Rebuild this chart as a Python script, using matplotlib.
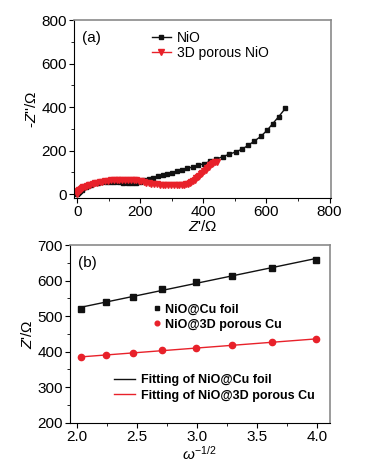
import numpy as np
import matplotlib
matplotlib.use("Agg")
import matplotlib.pyplot as plt
from matplotlib.ticker import MultipleLocator
from matplotlib.lines import Line2D

plt.rcParams["font.family"] = ["Liberation Sans", "DejaVu Sans"]
plt.rcParams["mathtext.fontset"] = "custom"
plt.rcParams["mathtext.rm"] = "Liberation Sans"
plt.rcParams["mathtext.it"] = "Liberation Sans:italic"

# (a) Nyquist plots
nio_x = [0, 2, 5, 9, 14, 20, 27, 35, 44, 54, 65, 77, 90, 104, 118, 132, 146, 160, 173, 186,
         199, 213, 227, 241, 256, 271, 286, 301, 317, 333, 349, 366, 383, 401, 420, 440, 461, 482,
         502, 522, 542, 562, 582, 602, 620, 639, 660]
nio_y = [0, 3, 8, 14, 20, 27, 33, 39, 44, 49, 53, 56, 57, 57, 56, 54, 51, 49, 49, 52,
         58, 64, 70, 76, 82, 88, 93, 99, 106, 112, 118, 125, 132, 140, 150, 160, 172, 183,
         194, 206, 224, 244, 265, 293, 324, 356, 394]

por_x = [0, 1, 2, 4, 6, 9, 12, 16, 20, 25, 30, 36, 42, 49, 56, 64, 72, 80, 89, 98,
         107, 116, 125, 134, 143, 152, 161, 170, 179, 187, 195, 203, 211, 219, 227, 235, 244, 253,
         262, 271, 280, 289, 298, 307, 316, 324, 332, 339, 345, 351, 357, 362, 367, 372, 377, 382,
         387, 392, 397, 402, 407, 412, 417, 422, 427, 432, 437, 442]
por_y = [0, 4, 8, 13, 17, 21, 25, 29, 32, 35, 38, 41, 44, 47, 50, 52, 55, 57, 59, 61,
         63, 64, 65, 66, 66, 66, 66, 66, 65, 64, 62, 59, 56, 53, 50, 48, 46, 45,
         44, 43, 43, 42, 42, 41, 41, 41, 42, 43, 45, 48, 52, 56, 61, 66, 72, 78,
         84, 91, 98, 105, 112, 119, 126, 133, 139, 144, 147, 149]

# (b) Z' vs omega^-1/2
w = [2.03, 2.24, 2.47, 2.71, 2.99, 3.29, 3.63, 3.99]
z_foil = [519, 541, 555, 577, 597, 613, 636, 659]
z_porous = [384, 390, 397, 404, 411, 418, 426, 435]

red = "#e8212a"
gray = "#8a8a8a"

fig = plt.figure(figsize=(3.72, 4.66), dpi=100)
ax1 = fig.add_axes([0.199, 0.575, 0.691, 0.382])
ax2 = fig.add_axes([0.188, 0.093, 0.699, 0.381])

for ax in (ax1, ax2):
    ax.spines["top"].set_color(gray)
    ax.spines["right"].set_color(gray)
    ax.spines["top"].set_linewidth(1.2)
    ax.spines["right"].set_linewidth(1.2)
    ax.tick_params(which="both", direction="out", top=False, right=False, labelsize=11, pad=1.5)
    ax.tick_params(which="major", length=3.5)
    ax.tick_params(which="minor", length=2)

# panel (a)
ax1.plot(nio_x, nio_y, "-s", color="#111111", ms=3.5, lw=1, label="NiO")
ax1.plot(por_x, por_y, "-v", color=red, ms=4.5, lw=1, label="3D porous NiO")
ax1.set_xlim(-10, 805)
ax1.set_ylim(-18, 800)
ax1.xaxis.set_major_locator(MultipleLocator(200))
ax1.xaxis.set_minor_locator(MultipleLocator(100))
ax1.yaxis.set_major_locator(MultipleLocator(200))
ax1.yaxis.set_minor_locator(MultipleLocator(100))
ax1.set_xlabel(r"$Z$'/$\Omega$", fontsize=11, labelpad=0)
ax1.set_ylabel(r"-$Z$''/$\Omega$", fontsize=11, labelpad=2)
ax1.text(0.03, 0.9, "(a)", transform=ax1.transAxes, fontsize=11, va="center")
ax1.legend(loc="upper left", bbox_to_anchor=(0.28, 0.97), frameon=False, fontsize=10,
           handlelength=1.4, handletextpad=0.4, labelspacing=0.1, borderaxespad=0,
           markerscale=0.85)

# panel (b)
p1 = np.polyfit(w, z_foil, 1)
p2 = np.polyfit(w, z_porous, 1)
wf = np.array([min(w), max(w)])
ax2.plot(wf, np.polyval(p1, wf), color="#111111", lw=1)
ax2.plot(wf, np.polyval(p2, wf), color=red, lw=1)
m1, = ax2.plot(w, z_foil, "s", color="#111111", ms=4.5, ls="none")
m2, = ax2.plot(w, z_porous, "o", color=red, ms=4.5, ls="none")
ax2.set_xlim(1.94, 4.11)
ax2.set_ylim(200, 700)
ax2.xaxis.set_major_locator(MultipleLocator(0.5))
ax2.xaxis.set_minor_locator(MultipleLocator(0.25))
ax2.yaxis.set_major_locator(MultipleLocator(100))
ax2.yaxis.set_minor_locator(MultipleLocator(50))
ax2.set_xlabel(r"$\omega^{\mathregular{-1/2}}$", fontsize=11, labelpad=1)
ax2.set_ylabel(r"$Z$'/$\Omega$", fontsize=11, labelpad=2)
ax2.text(0.03, 0.897, "(b)", transform=ax2.transAxes, fontsize=11, va="center")

leg1 = ax2.legend([m1, m2], ["NiO@Cu foil", "NiO@3D porous Cu"], loc="upper left",
                  bbox_to_anchor=(0.3, 0.70), frameon=False, handlelength=0.6,
                  handletextpad=0.4, labelspacing=0.25, borderaxespad=0, markerscale=0.75,
                  prop={"weight": "bold", "size": 9})
ax2.add_artist(leg1)
h1 = Line2D([], [], color="#111111", lw=1)
h2 = Line2D([], [], color=red, lw=1)
ax2.legend([h1, h2], ["Fitting of NiO@Cu foil", "Fitting of NiO@3D porous Cu"], loc="upper left",
           bbox_to_anchor=(0.15, 0.30), frameon=False, handlelength=1.7,
           handletextpad=0.5, labelspacing=0.25, borderaxespad=0,
           prop={"weight": "bold", "size": 9})

fig.savefig("out.png", dpi=100)
